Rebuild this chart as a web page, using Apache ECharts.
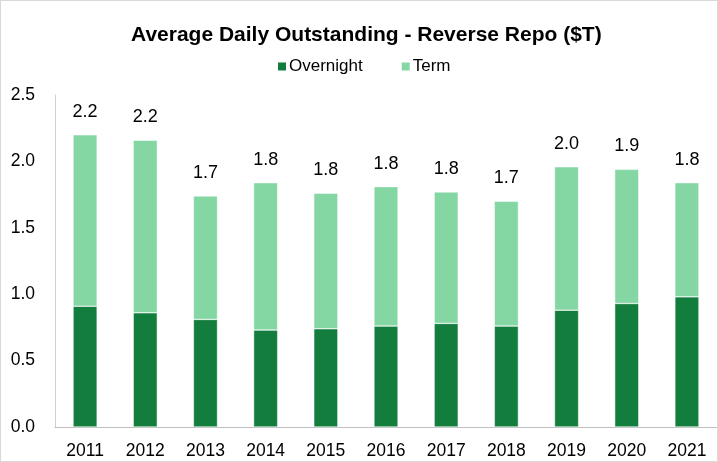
<!DOCTYPE html>
<html lang="en">
<head>
    <meta charset="UTF-8">
    <title>Average Daily Outstanding - Reverse Repo</title>
    <script src="https://cdn.jsdelivr.net/npm/echarts@6/dist/echarts.min.js"></script>
    <style>
        html, body { margin: 0; padding: 0; background: #fff; }
        #chart { width: 718px; height: 462px; box-sizing: border-box; border: 1px solid #d9d9d9; }
    </style>
</head>
<body>
    <div id="chart"></div>
    <script>
        // 数据
        let years = ['2011', '2012', '2013', '2014', '2015', '2016', '2017', '2018', '2019', '2020', '2021'];
        let overnight = [0.91, 0.86, 0.81, 0.73, 0.74, 0.76, 0.78, 0.76, 0.88, 0.93, 0.98];
        let term = [1.29, 1.30, 0.93, 1.11, 1.02, 1.05, 0.99, 0.94, 1.08, 1.01, 0.86];
        let totalLabels = ['2.2', '2.2', '1.7', '1.8', '1.8', '1.8', '1.8', '1.7', '2.0', '1.9', '1.8'];

        let fontFamily = 'Liberation Sans, Arial, sans-serif';
        let chart = echarts.init(document.getElementById('chart'));
        chart.setOption({
            animation: false,
            title: {
                text: 'Average Daily Outstanding - Reverse Repo ($T)',
                left: 125,
                top: 19,
                textStyle: { fontSize: 21, fontWeight: 'bold', color: '#000', fontFamily: fontFamily }
            },
            legend: {
                data: ['Overnight', 'Term'],
                top: 52,
                left: 270,
                itemWidth: 10,
                itemHeight: 10,
                itemGap: 37,
                icon: 'rect',
                textStyle: { fontSize: 17, color: '#000', fontFamily: fontFamily, padding: [0, 0, 0, -3] }
            },
            grid: { left: 54, right: -3, top: 94, bottom: 34 },
            xAxis: {
                type: 'category',
                data: years,
                axisLine: { lineStyle: { color: '#bfbfbf' } },
                axisTick: { show: false },
                axisLabel: { fontSize: 17.5, color: '#000', margin: 15, fontFamily: fontFamily }
            },
            yAxis: {
                type: 'value',
                min: 0,
                max: 2.5,
                interval: 0.5,
                axisLine: { show: true, lineStyle: { color: '#d0d0d0' } },
                axisTick: { show: false },
                splitLine: { show: false },
                axisLabel: {
                    fontSize: 17.5, color: '#000', margin: 20, fontFamily: fontFamily,
                    formatter: function (v) { return v.toFixed(1); }
                }
            },
            series: [{
                name: 'Overnight',
                type: 'bar',
                stack: 'total',
                data: overnight,
                barWidth: '40%',
                itemStyle: { color: '#137d3e', borderColor: '#ffffff', borderWidth: 0.5 }
            },
            {
                name: 'Term',
                type: 'bar',
                stack: 'total',
                data: term,
                barWidth: '40%',
                itemStyle: { color: '#84d6a2', borderColor: '#ffffff', borderWidth: 0.5 },
                label: {
                    show: true,
                    position: 'top',
                    distance: 14,
                    fontSize: 18,
                    color: '#000',
                    fontFamily: fontFamily,
                    formatter: function (p) { return totalLabels[p.dataIndex]; }
                }
            }]
        });
    </script>
</body>
</html>
